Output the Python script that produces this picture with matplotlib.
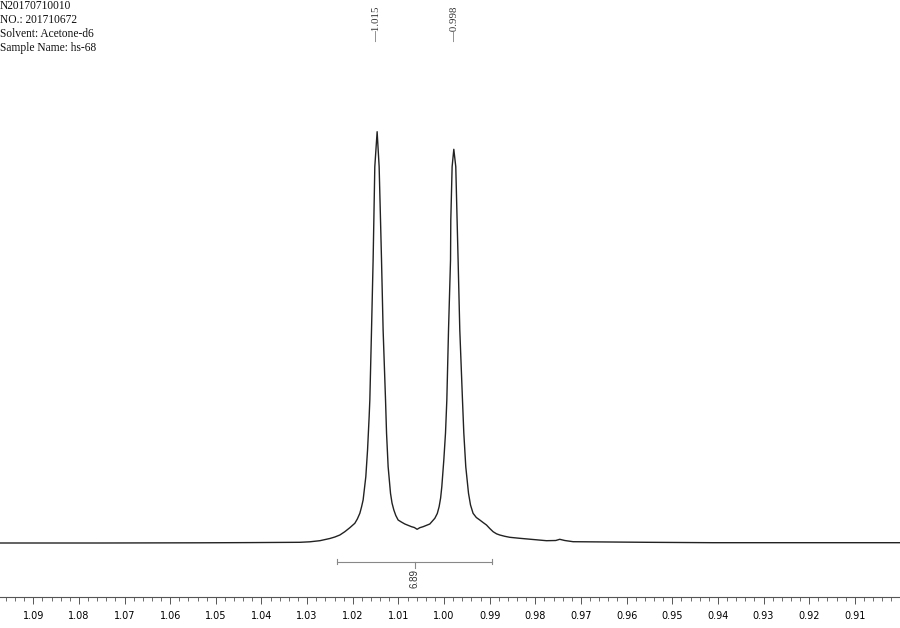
import matplotlib
matplotlib.use("Agg")
import matplotlib.pyplot as plt
from matplotlib.ticker import MultipleLocator, FormatStrFormatter

# header of the spectrum
header_lines = ["N20170710010", "NO.: 201710672", "Solvent: Acetone-d6", "Sample Name: hs-68"]

# traced spectrum (ppm, intensity)
ppm = [1.09729, 1.07539, 1.05349, 1.04254, 1.03159, 1.02940, 1.02721, 1.02502,
       1.02392, 1.02283, 1.02174, 1.02064, 1.01955, 1.01900, 1.01845, 1.01808,
       1.01773, 1.01714, 1.01676, 1.01641, 1.01626, 1.01589, 1.01554, 1.01538,
       1.01517, 1.01466, 1.01422, 1.01392, 1.01370, 1.01335, 1.01282, 1.01260,
       1.01225, 1.01173, 1.01140, 1.01100, 1.01057, 1.01006, 1.00936, 1.00859,
       1.00713, 1.00651, 1.00590, 1.00531, 1.00459, 1.00312, 1.00202, 1.00148,
       1.00108, 1.00075, 1.00049, 1.00005, 0.99968, 0.99939, 0.99902, 0.99858,
       0.99852, 0.99823, 0.99786, 0.99743, 0.99714, 0.99692, 0.99655, 0.99596,
       0.99567, 0.99524, 0.99464, 0.99420, 0.99364, 0.99293, 0.99217, 0.99145,
       0.99070, 0.98998, 0.98925, 0.98851, 0.98779, 0.98669, 0.98560, 0.98341,
       0.97756, 0.97553, 0.97465, 0.97355, 0.97173, 0.95566, 0.94114, 0.90019]
intensity = [0.0, 0.0, 0.2, 0.4, 0.7, 1.2, 2.3, 4.5,
             6.0, 8.0, 11.3, 15.3, 19.7, 24.0, 29.7, 36.0,
             43.0, 66.3, 93.0, 126.3, 143.0, 213.0, 283.0, 323.0,
             376.3, 411.3, 376.3, 323.0, 283.0, 213.0, 143.0, 110.0,
             76.3, 49.7, 40.0, 33.0, 27.5, 23.0, 21.0, 19.0,
             16.3, 15.5, 13.7, 15.3, 16.3, 19.0, 24.7, 29.5,
             36.3, 45.0, 56.3, 83.0, 110.0, 143.0, 213.0, 283.0,
             323.0, 376.3, 393.7, 376.3, 323.0, 283.0, 213.0, 143.0,
             110.0, 76.3, 49.7, 38.0, 29.7, 25.5, 23.0, 20.5,
             18.0, 14.5, 11.3, 9.2, 8.0, 6.7, 5.7, 4.7,
             2.3, 2.5, 3.7, 2.5, 1.3, 0.7, 0.3, 0.3]

peak_labels = ["1.015", "0.998"]
peak_pos = [1.0148, 0.9977]

integral_start = 1.02346
integral_end = 0.98943
integral_value = "6.89"


def main():
    fig = plt.figure(figsize=(9, 6.28), dpi=100)
    ax = fig.add_axes([0, 31 / 628, 1, 597 / 628])

    ax.plot(ppm, intensity, color="#222222", lw=1.0)
    ax.set_xlim(1.09729, 0.90010)
    ax.set_ylim(-54, 543)

    for s in ["top", "left", "right"]:
        ax.spines[s].set_visible(False)
    ax.spines["bottom"].set_color("#555555")
    ax.spines["bottom"].set_linewidth(0.8)
    ax.set_yticks([])
    ax.xaxis.set_major_locator(MultipleLocator(0.01))
    ax.xaxis.set_minor_locator(MultipleLocator(0.002))
    ax.xaxis.set_major_formatter(FormatStrFormatter("%.2f"))
    ax.tick_params(axis="x", which="major", length=5, width=0.7, color="#555555",
                   labelsize=7, pad=5)
    ax.tick_params(axis="x", which="minor", length=3, width=0.6, color="#555555")

    # peak labels
    for lab, p in zip(peak_labels, peak_pos):
        ax.text(p, 1 - 42 / 597, "\u2014" + lab, transform=ax.get_xaxis_transform(),
                rotation=90, ha="center", va="bottom", fontsize=7.8,
                family="Liberation Serif", color="#333333")

    # integral
    iy = -18.7
    ax.plot([integral_start, integral_end], [iy, iy], color="#888888", lw=0.8)
    for xe in [integral_start, integral_end]:
        ax.plot([xe, xe], [iy - 2.5, iy + 2.5], color="#888888", lw=0.8)
    mid = (integral_start + integral_end) / 2
    ax.plot([mid, mid], [iy, iy - 6.5], color="#888888", lw=0.8)
    ax.text(mid, -36, integral_value, rotation=90, ha="center", va="center",
            fontsize=7, family="Liberation Sans", color="#333333")

    # header text
    for i, line in enumerate(header_lines):
        fig.text(0.0, 1 - (6 + 14 * i) / 628, line, ha="left", va="center",
                 fontsize=8.3, family="Liberation Serif", color="#111111")

    fig.savefig("out.png", dpi=100, facecolor="white")


if __name__ == "__main__":
    main()
